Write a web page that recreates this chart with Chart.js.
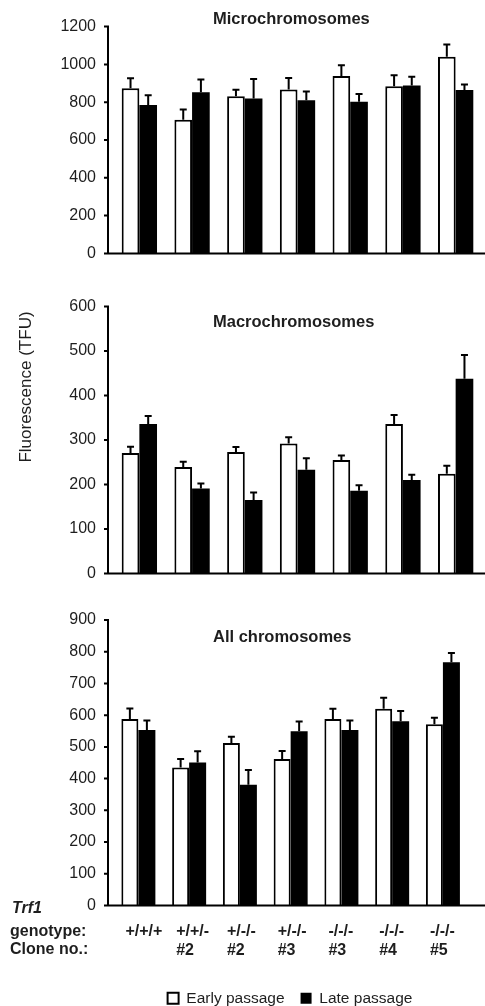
<!DOCTYPE html>
<html><head><meta charset="utf-8">
<script src="https://cdn.jsdelivr.net/npm/chart.js@4"></script>
<style>
html,body{margin:0;padding:0;background:#fff;overflow:hidden;width:485px;height:1006px;}
canvas{position:absolute;left:0;}
</style></head><body>
<canvas id="c1" width="485" height="280" style="top:0px"></canvas>
<canvas id="c2" width="485" height="320" style="top:280px"></canvas>
<canvas id="c3" width="485" height="426" style="top:590px"></canvas>
<script>
// ---- data ----
const genotypes = ["+/+/+", "+/+/-", "+/-/-", "+/-/-", "-/-/-", "-/-/-", "-/-/-"];
const clones = ["", "#2", "#2", "#3", "#3", "#4", "#5"];
const seriesNames = ["Early passage", "Late passage"];

const microEarly    = [874, 707, 832, 867, 938, 884, 1040];
const microEarlyErr = [53, 54, 34, 61, 58, 58, 65];
const microLate     = [785, 852, 820, 810, 802, 888, 864];
const microLateErr  = [52, 68, 103, 46, 42, 47, 30];

const macroEarly    = [271, 239, 273, 292, 255, 336, 224];
const macroEarlyErr = [14, 12, 11, 14, 10, 20, 18];
const macroLate     = [336, 191, 165, 233, 186, 210, 438];
const macroLateErr  = [18, 11, 17, 26, 12, 12, 53];

const allEarly      = [588, 435, 512, 462, 588, 620, 571];
const allEarlyErr   = [33, 27, 20, 25, 32, 35, 21];
const allLate       = [553, 451, 381, 549, 553, 581, 767];
const allLateErr    = [30, 35, 46, 31, 30, 32, 29];

const microTicks = {max: 1200, step: 200};
const macroTicks = {max: 600, step: 100};
const allTicks   = {max: 900, step: 100};

const FONT = "'Liberation Sans', Arial, Helvetica, sans-serif";
const TXT = '#1e1e1e';

// ---- plugins ----
const errorPlugin = {
  id: 'errorBars',
  afterDatasetsDraw(chart) {
    const ctx = chart.ctx, y = chart.scales.y;
    ctx.save();
    ctx.strokeStyle = '#000';
    ctx.lineWidth = 2;
    chart.data.datasets.forEach((ds, di) => {
      const meta = chart.getDatasetMeta(di);
      meta.data.forEach((bar, i) => {
        const v = ds.data[i], e = ds.errors[i];
        const top = y.getPixelForValue(v), cap = y.getPixelForValue(v + e);
        ctx.beginPath();
        ctx.moveTo(bar.x, top); ctx.lineTo(bar.x, cap);
        ctx.moveTo(bar.x - 3.5, cap); ctx.lineTo(bar.x + 3.5, cap);
        ctx.stroke();
      });
    });
    ctx.restore();
  }
};

const axesPlugin = {
  id: 'axesLines',
  afterDatasetsDraw(chart) {
    const ctx = chart.ctx, y = chart.scales.y, area = chart.chartArea;
    const ax = area.left - 5;
    const y0 = y.getPixelForValue(0);
    ctx.save();
    ctx.strokeStyle = '#000';
    ctx.lineWidth = 2;
    ctx.beginPath();
    ctx.moveTo(ax, y.getPixelForValue(y.max) - 1); ctx.lineTo(ax, y0);
    ctx.moveTo(ax - 1, y0); ctx.lineTo(chart.width, y0);
    y.ticks.forEach(t => {
      const py = y.getPixelForValue(t.value);
      ctx.moveTo(ax - 4, py); ctx.lineTo(ax, py);
    });
    ctx.stroke();
    ctx.restore();
  }
};

const textPlugin = {
  id: 'panelText',
  afterDraw(chart, args, opts) {
    const ctx = chart.ctx;
    (opts.items || []).forEach(it => {
      ctx.save();
      ctx.font = it.font;
      ctx.fillStyle = TXT;
      ctx.textAlign = it.align || 'left';
      ctx.textBaseline = 'middle';
      ctx.translate(it.x, it.y);
      if (it.rotate) ctx.rotate(it.rotate);
      ctx.fillText(it.text, 0, 0);
      ctx.restore();
    });
  }
};

function makeChart(id, early, earlyErr, late, lateErr, tk, cfg) {
  return new Chart(document.getElementById(id), {
    type: 'bar',
    data: {
      labels: genotypes.map((g, i) => [g, clones[i]]),
      datasets: [
        {label: seriesNames[0], data: early, errors: earlyErr, backgroundColor: '#fff', borderColor: '#000', borderWidth: 2},
        {label: seriesNames[1], data: late, errors: lateErr, backgroundColor: '#000', borderColor: '#000', borderWidth: 0}
      ]
    },
    options: {
      responsive: false, animation: false, devicePixelRatio: 1,
      layout: {padding: cfg.padding},
      datasets: {bar: {categoryPercentage: 0.67, barPercentage: 1}},
      scales: {
        x: {
          display: cfg.showX,
          grid: {display: false, drawTicks: false},
          border: {display: false},
          ticks: {
            autoSkip: false, maxRotation: 0, minRotation: 0, align: 'start', labelOffset: -13,
            padding: 17, color: TXT,
            font: {family: FONT, size: 16, weight: 'bold', lineHeight: 1.15}
          },
          afterFit: s => { s.height = cfg.xH || 0; }
        },
        y: {
          min: 0, max: tk.max,
          grid: {display: false, drawTicks: false},
          border: {display: false},
          ticks: {stepSize: tk.step, padding: 17, color: TXT, font: {family: FONT, size: 16},
                  callback: v => String(v)},
          afterFit: s => { s.width = 15; s._computeLabelArea = () => undefined; }
        }
      },
      plugins: {
        legend: {
          display: !!cfg.legend, position: 'bottom',
          labels: {boxWidth: 11, boxHeight: 11, padding: 16, color: TXT, font: {family: FONT, size: 15.5}}
        },
        tooltip: {enabled: false},
        panelText: {items: cfg.texts}
      }
    },
    plugins: [errorPlugin, axesPlugin, textPlugin]
  });
}

const TITLE_FONT = "bold 16.5px " + FONT;
const ROW_FONT = "bold 16px " + FONT;

makeChart('c1', microEarly, microEarlyErr, microLate, microLateErr, microTicks, {
  padding: {left: 98, right: 3, top: 25, bottom: 18}, showX: false,
  texts: [{text: 'Microchromosomes', x: 213, y: 19, font: TITLE_FONT}]
});
makeChart('c2', macroEarly, macroEarlyErr, macroLate, macroLateErr, macroTicks, {
  padding: {left: 98, right: 3, top: 19, bottom: 16}, showX: false,
  texts: [
    {text: 'Macrochromosomes', x: 213, y: 42, font: TITLE_FONT},
    {text: 'Fluorescence (TFU)', x: 26, y: 107, font: "17px " + FONT, align: 'center', rotate: -Math.PI / 2}
  ]
});
makeChart('c3', allEarly, allEarlyErr, allLate, allLateErr, allTicks, {
  padding: {left: 98, right: 3, top: 30, bottom: 0}, showX: true, xH: 69, legend: true,
  texts: [
    {text: 'All chromosomes', x: 213, y: 47, font: TITLE_FONT},
    {text: 'Trf1', x: 12, y: 319, font: "italic bold 16px " + FONT},
    {text: 'genotype:', x: 10, y: 342, font: ROW_FONT},
    {text: 'Clone no.:', x: 10, y: 360, font: ROW_FONT}
  ]
});
</script>
</body></html>
